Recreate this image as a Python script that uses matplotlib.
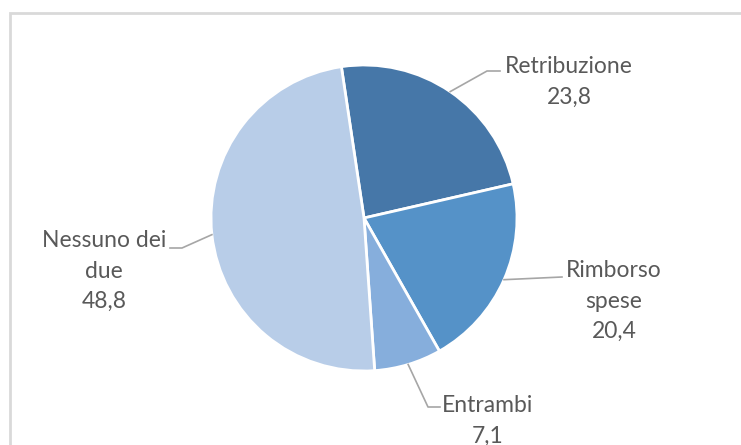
import numpy as np
import matplotlib.pyplot as plt
from matplotlib.patches import Rectangle

labels = ['Retribuzione', 'Rimborso\nspese', 'Entrambi', 'Nessuno dei\ndue']
values = [23.8, 20.4, 7.1, 48.8]
value_text = ['23,8', '20,4', '7,1', '48,8']
colors = ['#4677A8', '#5592C8', '#86AEDC', '#B8CDE8']

# layout in pixels (y from top): elbow points of leaders and label centres
elbows = [[(487, 71), (500, 71)],
          [(562, 277)],
          [(428, 407), (440, 407)],
          [(182, 248), (170, 248)]]
label_pos = [(569, 82), (614, 301), (488, 421), (104, 271)]

W, H = 741, 445


def main():
    fig = plt.figure(figsize=(W / 100, H / 100), dpi=100)
    ax = fig.add_axes([0, 0, 1, 1])

    # chart frame, cut by the image border
    ax.add_patch(Rectangle((10, -20), W + 20, H - 13 + 20, fill=False,
                           edgecolor='#D9D9D9', linewidth=2))

    cx, cy, r = 364, H - 218, 153
    wedges, _ = ax.pie(values, colors=colors, startangle=98.5, counterclock=False,
                       center=(cx, cy), radius=r, frame=True,
                       wedgeprops=dict(edgecolor='white', linewidth=2))
    ax.set_xlim(0, W)
    ax.set_ylim(0, H)
    ax.axis('off')

    for i, w in enumerate(wedges):
        mid = np.deg2rad((w.theta1 + w.theta2) / 2)
        ax0 = cx + r * np.cos(mid)
        ay0 = cy + r * np.sin(mid)
        xs = [ax0] + [p[0] for p in elbows[i]]
        ys = [ay0] + [H - p[1] for p in elbows[i]]
        ax.plot(xs, ys, color='#A6A6A6', linewidth=1.2)
        lx, ly = label_pos[i]
        ax.text(lx, H - ly, labels[i] + '\n' + value_text[i], ha='center', va='center',
                fontsize=16.5, color='#595959', family=['Lato', 'DejaVu Sans'],
                linespacing=1.55)

    fig.savefig('out.png', dpi=100)


if __name__ == '__main__':
    main()
